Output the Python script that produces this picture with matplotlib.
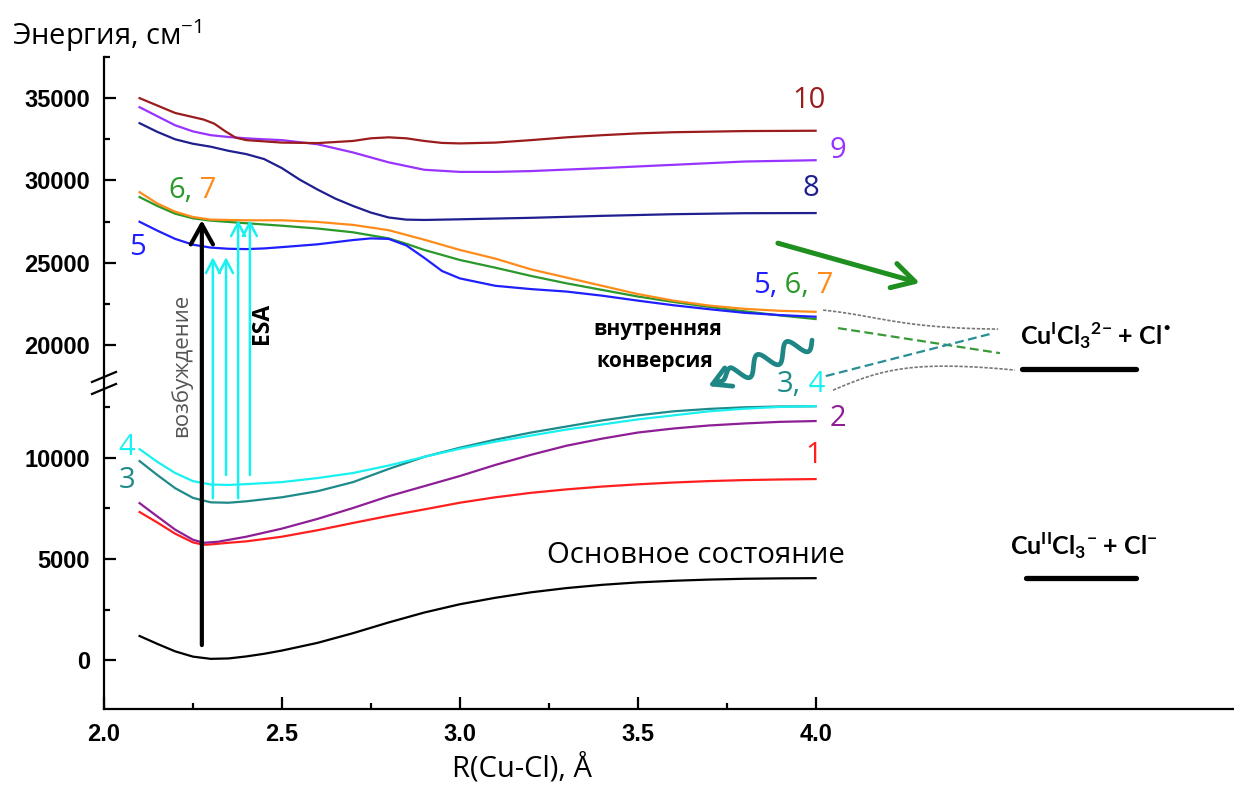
import numpy as np
import matplotlib
matplotlib.use("Agg")
import matplotlib.pyplot as plt
from matplotlib.lines import Line2D

plt.rcParams['font.family'] = ['Open Sans', 'DejaVu Sans']

# ---------------- potential energy curves: R(Cu-Cl) in Å, energy in cm^-1 ----------------
r_ground = [2.10, 2.15, 2.20, 2.25, 2.30, 2.35, 2.40, 2.45, 2.50, 2.60, 2.70, 2.80, 2.90, 3.00,
            3.10, 3.20, 3.30, 3.40, 3.50, 3.60, 3.70, 3.80, 3.90, 4.00]
e_ground = [1190, 800, 430, 170, 60, 80, 180, 310, 470, 850, 1330, 1860, 2350, 2760,
            3080, 3350, 3560, 3720, 3840, 3920, 3980, 4020, 4040, 4050]

r_s1 = [2.10, 2.15, 2.20, 2.25, 2.28, 2.30, 2.35, 2.40, 2.50, 2.60, 2.70, 2.80, 2.90, 3.00,
        3.10, 3.20, 3.30, 3.40, 3.50, 3.60, 3.70, 3.80, 3.90, 4.00]
e_s1 = [7320, 6800, 6250, 5820, 5700, 5720, 5800, 5870, 6100, 6420, 6780, 7130, 7450, 7780,
        8050, 8270, 8440, 8580, 8690, 8780, 8850, 8900, 8930, 8950]

r_s2 = [2.10, 2.15, 2.20, 2.25, 2.28, 2.32, 2.40, 2.50, 2.60, 2.70, 2.80, 2.90, 3.00, 3.10,
        3.20, 3.30, 3.40, 3.50, 3.60, 3.70, 3.80, 3.90, 4.00]
e_s2 = [7760, 7100, 6450, 5950, 5800, 5850, 6100, 6500, 6980, 7520, 8100, 8600, 9100, 9650,
        10150, 10600, 10950, 11250, 11450, 11600, 11700, 11780, 11820]

r_s3 = [2.10, 2.15, 2.20, 2.25, 2.30, 2.35, 2.40, 2.50, 2.60, 2.70, 2.80, 2.90, 3.00, 3.10,
        3.20, 3.30, 3.40, 3.50, 3.60, 3.70, 3.80, 3.90, 4.00]
e_s3 = [9840, 9150, 8500, 8020, 7800, 7780, 7850, 8050, 8350, 8800, 9450, 10050, 10500, 10900,
        11250, 11550, 11850, 12100, 12300, 12420, 12500, 12540, 12550]

r_s4 = [2.10, 2.15, 2.20, 2.25, 2.30, 2.35, 2.40, 2.50, 2.60, 2.70, 2.80, 2.90, 3.00, 3.10,
        3.20, 3.30, 3.40, 3.50, 3.60, 3.70, 3.80, 3.90, 4.00]
e_s4 = [10430, 9800, 9250, 8850, 8680, 8660, 8700, 8800, 9000, 9250, 9620, 10050, 10450, 10800,
        11100, 11400, 11650, 11900, 12100, 12300, 12430, 12520, 12560]

r_s5 = [2.10, 2.15, 2.20, 2.25, 2.30, 2.35, 2.40, 2.45, 2.50, 2.60, 2.70, 2.75, 2.80, 2.85,
        2.90, 2.95, 3.00, 3.10, 3.20, 3.30, 3.40, 3.50, 3.60, 3.70, 3.80, 3.90, 4.00]
e_s5 = [27490, 26950, 26450, 26100, 25920, 25850, 25830, 25870, 25950, 26120, 26380, 26480, 26450, 26050,
        25300, 24500, 24050, 23600, 23400, 23250, 23000, 22700, 22420, 22180, 21960, 21820, 21720]

r_s6 = [2.10, 2.15, 2.20, 2.25, 2.30, 2.40, 2.50, 2.60, 2.70, 2.80, 2.85, 2.90, 3.00, 3.10,
        3.20, 3.30, 3.40, 3.50, 3.60, 3.70, 3.80, 3.90, 4.00]
e_s6 = [28990, 28450, 27980, 27700, 27560, 27400, 27250, 27080, 26850, 26480, 26150, 25780, 25170, 24700,
        24200, 23750, 23350, 22950, 22620, 22320, 22050, 21800, 21580]

r_s7 = [2.10, 2.15, 2.20, 2.25, 2.30, 2.40, 2.50, 2.60, 2.70, 2.80, 2.90, 3.00, 3.10, 3.20,
        3.30, 3.40, 3.50, 3.60, 3.70, 3.80, 3.90, 4.00]
e_s7 = [29290, 28600, 28100, 27780, 27620, 27580, 27580, 27480, 27300, 26980, 26400, 25780, 25250, 24600,
        24100, 23600, 23100, 22700, 22400, 22200, 22080, 22020]

r_s8 = [2.10, 2.15, 2.20, 2.25, 2.30, 2.35, 2.40, 2.45, 2.50, 2.55, 2.60, 2.65, 2.70, 2.75,
        2.80, 2.85, 2.90, 3.00, 3.20, 3.40, 3.60, 3.80, 4.00]
e_s8 = [33480, 32950, 32500, 32230, 32050, 31800, 31600, 31300, 30750, 30050, 29450, 28900, 28450, 28050,
        27750, 27620, 27600, 27640, 27730, 27850, 27950, 28010, 28020]

r_s9 = [2.10, 2.15, 2.20, 2.25, 2.30, 2.35, 2.40, 2.45, 2.50, 2.60, 2.70, 2.80, 2.90, 3.00,
        3.10, 3.20, 3.40, 3.60, 3.80, 4.00]
e_s9 = [34450, 33900, 33350, 32980, 32750, 32640, 32560, 32500, 32450, 32200, 31700, 31100, 30650, 30520,
        30520, 30570, 30750, 30950, 31150, 31230]

r_s10 = [2.10, 2.15, 2.20, 2.25, 2.28, 2.31, 2.34, 2.37, 2.40, 2.50, 2.60, 2.70, 2.75, 2.80,
         2.85, 2.90, 2.95, 3.00, 3.10, 3.20, 3.30, 3.40, 3.50, 3.60, 3.80, 4.00]
e_s10 = [35000, 34550, 34100, 33850, 33700, 33450, 33000, 32600, 32450, 32300, 32270, 32400, 32560, 32620,
         32560, 32400, 32280, 32250, 32300, 32450, 32620, 32750, 32860, 32930, 33000, 33020]

C = {
    'g': 'black', 1: '#ff1f1f', 2: '#8e1e96', 3: '#1e8a8a', 4: '#19f0f0', 5: '#1f1fff',
    6: '#2a982a', 7: '#ff8c1a', 8: '#1f1f8f', 9: '#9933ff', 10: '#9b1c1c',
}

curves = [
    (r_ground, e_ground, C['g']),
    (r_s1, e_s1, C[1]),
    (r_s2, e_s2, C[2]),
    (r_s3, e_s3, C[3]),
    (r_s4, e_s4, C[4]),
    (r_s6, e_s6, C[6]),
    (r_s7, e_s7, C[7]),
    (r_s5, e_s5, C[5]),
    (r_s8, e_s8, C[8]),
    (r_s9, e_s9, C[9]),
    (r_s10, e_s10, C[10]),
]

# asymptotic product levels (cm^-1)
e_cu1_level = 18540
e_cu2_level = 4050

# axis ticks
x_major = [2.0, 2.5, 3.0, 3.5, 4.0]
x_minor = [2.25, 2.75, 3.25, 3.75]
x_labels = ['2.0', '2.5', '3.0', '3.5', '4.0']
y_major = [0, 5000, 10000, 20000, 25000, 30000, 35000]
y_minor = [2500, 7500, 12500, 22500, 27500, 32500, 37500]
y_labels = ['0', '5000', '10000', '20000', '25000', '30000', '35000']

# ---------------- broken energy axis ----------------
LOW_TOP, UP_BOTTOM = 13700.0, 17700.0
UPPER_RATIO = 0.814
E_KNOTS = np.array([-60000.0, LOW_TOP, UP_BOTTOM, 80000.0])
H_KNOTS = np.array([-60000.0, LOW_TOP, LOW_TOP + 5.0,
                    LOW_TOP + 5.0 + (80000.0 - UP_BOTTOM) * UPPER_RATIO])


def fwd(e):
    return np.interp(e, E_KNOTS, H_KNOTS)


def inv(h):
    return np.interp(h, H_KNOTS, E_KNOTS)


fig = plt.figure(figsize=(12.34, 7.85), dpi=100)
ax = fig.add_axes([104 / 1234, 76 / 785, 1130 / 1234, 652 / 785])
ax.set_yscale('function', functions=(fwd, inv))
ax.set_xlim(2.0, 2.0 + 1130 / 355.8)
ax.set_ylim(-2420, 37500)

for s in ('top', 'right'):
    ax.spines[s].set_visible(False)
for s in ('left', 'bottom'):
    ax.spines[s].set_linewidth(1.6)

tick_font = dict(family='Liberation Sans', weight='bold', size=17)
ax.set_xticks(x_major, labels=x_labels)
ax.set_xticks(x_minor, minor=True)
ax.set_yticks(y_major, labels=y_labels)
ax.set_yticks(y_minor, minor=True)
for lab in ax.get_xticklabels() + ax.get_yticklabels():
    lab.set_fontproperties(tick_font)
ax.tick_params(which='both', direction='in', width=1.6, colors='black')
ax.tick_params(which='major', length=8.5)
ax.tick_params(which='minor', length=4.5)
ax.tick_params(axis='y', pad=10)
ax.tick_params(axis='x', pad=10)

for r, e, c in curves:
    ax.plot(r, e, color=c, lw=1.6, solid_joinstyle='round')

# axis titles
fig.text(12 / 1234, 1 - 45 / 785, 'Энергия, см$^{\\mathregular{-1}}$', fontsize=21,
         ha='left', va='baseline')
fig.text(522 / 1234, 1 - 754 / 785, 'R(Cu-Cl), Å', fontsize=21, ha='center', va='top')

# axis break marks
fig.canvas.draw()
bx, by = ax.transData.transform((2.0, 0.5 * (LOW_TOP + UP_BOTTOM)))
for off in (6, -6):
    fig.add_artist(Line2D([bx - 12, bx + 12], [by + off - 5, by + off + 5],
                          transform=None, color='black', lw=1.6))


def to_data(px, py):
    return ax.transData.inverted().transform(np.column_stack([px, py]))


def num_label(x, y, parts):
    t = ax.text(x, y, parts[0][0], color=parts[0][1], fontsize=21, va='center', ha='left')
    for s, c in parts[1:]:
        t = ax.annotate(s, xy=(1, 0), xycoords=t, color=c, fontsize=21, va='bottom', ha='left')


num_label(3.935, 34880, [('10', C[10])])
num_label(4.04, 31840, [('9', C[9])])
num_label(3.962, 29530, [('8', C[8])])
num_label(2.18, 29410, [('6,', C[6]), (' 7', C[7])])
num_label(2.070, 25950, [('5', C[5])])
num_label(3.824, 23640, [('5,', C[5]), (' 6,', C[6]), (' 7', C[7])])
num_label(3.892, 13620, [('3,', C[3]), (' 4', C[4])])
num_label(2.040, 10530, [('4', C[4])])
num_label(2.040, 8900, [('3', C[3])])
num_label(4.04, 11960, [('2', C[2])])
num_label(3.972, 10130, [('1', C[1])])

ax.text(3.245, 4795, 'Основное состояние', fontsize=21.2, ha='left', va='baseline')

ax.text(3.557, 20607, 'внутренняя', fontsize=15, fontweight='bold', ha='center', va='baseline')
ax.text(3.548, 18664, 'конверсия', fontsize=15, fontweight='bold', ha='center', va='baseline')

ax.text(2.444, 21340, 'ESA', fontsize=16.5, fontweight='bold', rotation=90, ha='center', va='center')
ax.text(2.216, 18790, 'возбуждение', fontsize=16, color='#555555', rotation=90,
        ha='center', va='center')

# product channels
bold_cu = dict(family=['Lato', 'DejaVu Sans'], fontsize=18, fontweight='bold')
ax.plot([4.58, 4.90], [e_cu1_level] * 2, color='black', lw=3.8, solid_capstyle='round')
ax.plot([4.59, 4.90], [e_cu2_level] * 2, color='black', lw=3.8, solid_capstyle='round')
ax.text(4.574, 20000,
        'Cu$^{\\mathregular{I}}$Cl$_{\\mathregular{3}}{}^{\\mathregular{2{-}}}$ + Cl$^{\\mathregular{•}}$',
        ha='left', va='baseline', **bold_cu)
ax.text(4.546, 5190,
        'Cu$^{\\mathregular{II}}$Cl$_{\\mathregular{3}}{}^{\\mathregular{-}}$ + Cl$^{\\mathregular{-}}$',
        ha='left', va='baseline', **bold_cu)


# excitation and excited-state absorption arrows
def arrow(x0, y0, x1, y1, color, lw, hl, hw, ms=20):
    ax.annotate('', xy=(x1, y1), xytext=(x0, y0),
                arrowprops=dict(arrowstyle=f'->,head_length={hl},head_width={hw}',
                                color=color, lw=lw, shrinkA=0, shrinkB=0,
                                mutation_scale=ms))


arrow(2.275, 740, 2.275, 27590, 'black', 3.0, 0.72, 0.4)
for xa, e0, e1 in [(2.306, 8000, 25340), (2.343, 9150, 25340),
                   (2.377, 8000, 27590), (2.410, 9150, 27590)]:
    arrow(xa, e0, xa, e1, C[4], 1.8, 0.95, 0.5, ms=10)

arrow(3.894, 26190, 4.293, 23770, '#1f8f1f', 3.6, 0.8, 0.45)


# dissociation connectors toward product channels
def bezier_data(pts, n=60):
    d = ax.transData.transform(np.array(pts))
    t = np.linspace(0, 1, n)[:, None]
    b = ((1 - t) ** 3 * d[0] + 3 * (1 - t) ** 2 * t * d[1]
         + 3 * (1 - t) * t ** 2 * d[2] + t ** 3 * d[3])
    return to_data(b[:, 0], b[:, 1])


up = bezier_data([(4.021, 22125), (4.181, 21760), (4.237, 21030), (4.513, 20970)])
ax.plot(up[:, 0], up[:, 1], color='#777777', lw=1.2, ls=(0, (2, 1)))
lo = bezier_data([(4.049, 13346), (4.181, 18480), (4.265, 19090), (4.560, 18480)])
ax.plot(lo[:, 0], lo[:, 1], color='#777777', lw=1.2, ls=(0, (2, 1)))
ax.plot([4.063, 4.518], [21030, 19510], color='#3a9a3a', lw=1.6, ls=(0, (4, 2)))
ax.plot([4.029, 4.490], [18120, 20670], color='#2a8f95', lw=1.6, ls=(0, (4, 2)))

# internal conversion: wavy arrow
S = ax.transData.transform((3.990, 20300))
T = ax.transData.transform((3.698, 13544))
d = T - S
L = np.hypot(*d)
u = d / L
nrm = np.array([-u[1], u[0]])
tt = np.linspace(0, 0.9, 200)
amp = 9.0 * np.clip((0.9 - tt) / 0.15, 0, 1)
w = S + np.outer(tt * L, u) + np.outer(amp * np.sin(2 * np.pi * tt * L / 32.0), nrm)
wd = to_data(w[:, 0], w[:, 1])
ax.plot(wd[:, 0], wd[:, 1], color='#1f8686', lw=3.4, solid_capstyle='round')
tip = to_data([T[0]], [T[1]])[0]
arrow(wd[-1, 0], wd[-1, 1], tip[0], tip[1], '#1f8686', 3.4, 0.8, 0.45, ms=16)

fig.savefig('out.png', dpi=100)
